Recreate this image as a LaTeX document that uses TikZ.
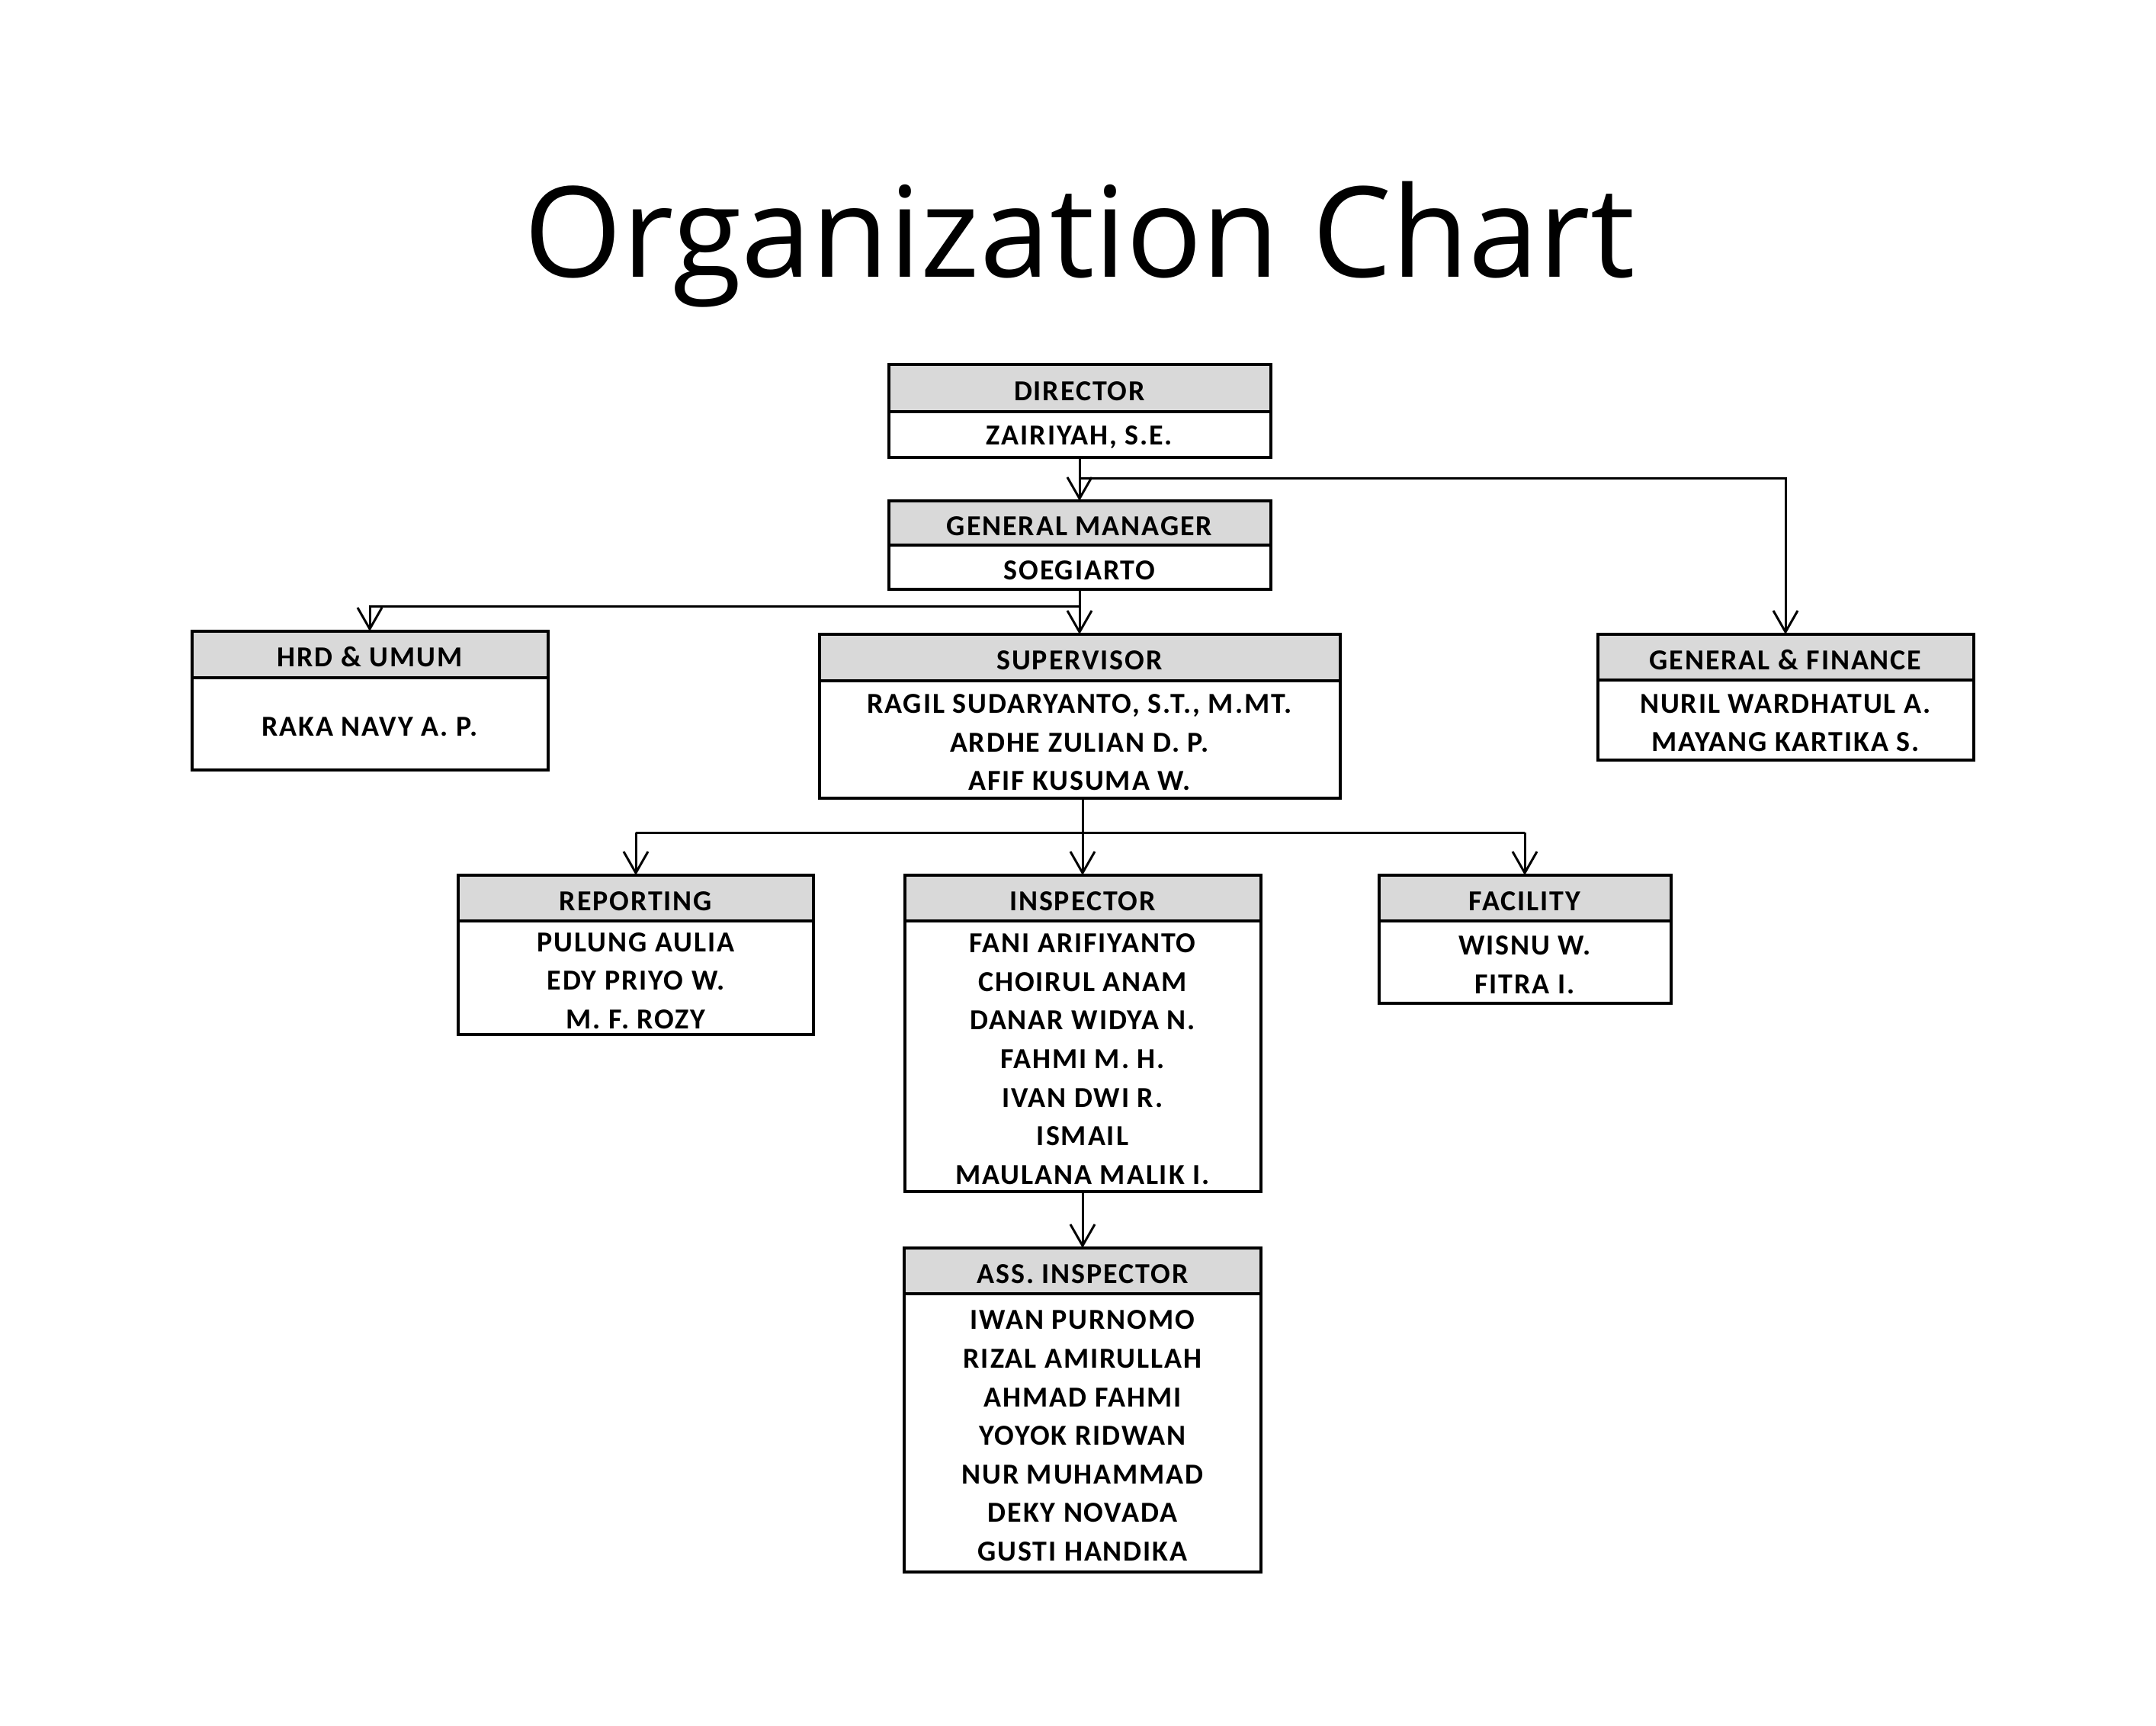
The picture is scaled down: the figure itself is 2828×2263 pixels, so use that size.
\documentclass[tikz,border=0pt]{standalone}
\usepackage{fontspec}
\setmainfont{Carlito}
\newfontfamily\boxfont[LetterSpace=5]{Carlito}
\newfontfamily\titlefont{Open Sans}
\usetikzlibrary{arrows.meta}
\definecolor{hdgray}{HTML}{D9D9D9}
\newcommand\fstrut{\rule{0pt}{8.1pt}}
\begin{document}
\begin{tikzpicture}[x=0.25pt,y=-0.25pt,
  boxtext/.style={font=\boxfont\bfseries\fontsize{9.5pt}{12.65pt}\selectfont, execute at begin node={\fstrut}},
  hdr/.style={draw=black, line width=1pt, fill=hdgray, inner sep=0pt, outer sep=0pt, anchor=north, boxtext},
  body/.style={draw=black, line width=1pt, fill=white, inner sep=0pt, outer sep=0pt, anchor=north, align=center, boxtext},
  conn/.style={draw=black, line width=0.75pt, -{Straight Barb[length=7pt,width=8pt]}},
  plain/.style={draw=black, line width=0.75pt}]
\useasboundingbox[fill=white] (0,0) rectangle (2828,2263);

\node[anchor=base, inner sep=0pt] (title) at (1416,363) {\titlefont\fontsize{41.3pt}{50pt}\selectfont Organization Chart};

% Director
\node[hdr, minimum width=501*0.25pt, minimum height=62*0.25pt] (dir) at (1416,478) {DIRECTOR};
\node[body, minimum width=501*0.25pt, minimum height=60*0.25pt] (dirb) at (1416,540) {ZAIRIYAH, S.E.};
% General manager
\node[hdr, minimum width=501*0.25pt, minimum height=58*0.25pt] (gm) at (1416,657) {GENERAL MANAGER};
\node[body, minimum width=501*0.25pt, minimum height=58*0.25pt] (gmb) at (1416,715) {SOEGIARTO};
% HRD
\node[hdr, minimum width=467*0.25pt, minimum height=61*0.25pt] (hrd) at (485,828) {HRD \& UMUM};
\node[body, minimum width=467*0.25pt, minimum height=121*0.25pt] (hrdb) at (485,889) {RAKA NAVY A. P.};
% Supervisor
\node[hdr, minimum width=683*0.25pt, minimum height=61*0.25pt] (sup) at (1416,832) {SUPERVISOR};
\node[body, minimum width=683*0.25pt, minimum height=154*0.25pt] (supb) at (1416,893) {\fstrut RAGIL SUDARYANTO, S.T., M.MT.\\ARDHE ZULIAN D. P.\\AFIF KUSUMA W.};
% General & Finance
\node[hdr, minimum width=493*0.25pt, minimum height=60*0.25pt] (gf) at (2342,832) {GENERAL \& FINANCE};
\node[body, minimum width=493*0.25pt, minimum height=105*0.25pt] (gfb) at (2342,892) {\fstrut NURIL WARDHATUL A.\\MAYANG KARTIKA S.};
% Reporting
\node[hdr, minimum width=466*0.25pt, minimum height=60*0.25pt] (rep) at (834,1148) {REPORTING};
\node[body, minimum width=466*0.25pt, minimum height=149*0.25pt] (repb) at (834,1208) {\fstrut PULUNG AULIA\\EDY PRIYO W.\\M. F. ROZY};
% Inspector
\node[hdr, minimum width=467*0.25pt, minimum height=60*0.25pt] (ins) at (1420,1148) {INSPECTOR};
\node[body, minimum width=467*0.25pt, minimum height=355*0.25pt] (insb) at (1420,1208) {\fstrut FANI ARIFIYANTO\\CHOIRUL ANAM\\DANAR WIDYA N.\\FAHMI M. H.\\IVAN DWI R.\\ISMAIL\\MAULANA MALIK I.};
% Facility
\node[hdr, minimum width=383*0.25pt, minimum height=60*0.25pt] (fac) at (2000,1148) {FACILITY};
\node[body, minimum width=383*0.25pt, minimum height=108*0.25pt] (facb) at (2000,1208) {\fstrut WISNU W.\\FITRA I.};
% Ass. Inspector
\node[hdr, minimum width=468*0.25pt, minimum height=60*0.25pt] (ass) at (1420,1637) {ASS. INSPECTOR};
\node[body, minimum width=468*0.25pt, minimum height=365*0.25pt] (assb) at (1420,1697) {\fstrut IWAN PURNOMO\\RIZAL AMIRULLAH\\AHMAD FAHMI\\YOYOK RIDWAN\\NUR MUHAMMAD\\DEKY NOVADA\\GUSTI HANDIKA};

% connectors
\coordinate (j1) at (1416,627);
\coordinate (j2) at (1416,795);
\coordinate (j3) at (834,1092);
\coordinate (j4) at (2000,1092);
\draw[conn] (dirb.south) -- (gm.north);
\draw[conn] (j1) -| (gf.north);
\draw[conn] (gmb.south) -- (sup.north);
\draw[conn] (j2) -| (hrd.north);
\draw[conn] (ins.north |- supb.south) -- (ins.north);
\draw[plain] (j3) -- (j4);
\draw[conn] (j3) -- (rep.north);
\draw[conn] (j4) -- (fac.north);
\draw[conn] (insb.south) -- (ass.north);
\end{tikzpicture}
\end{document}
